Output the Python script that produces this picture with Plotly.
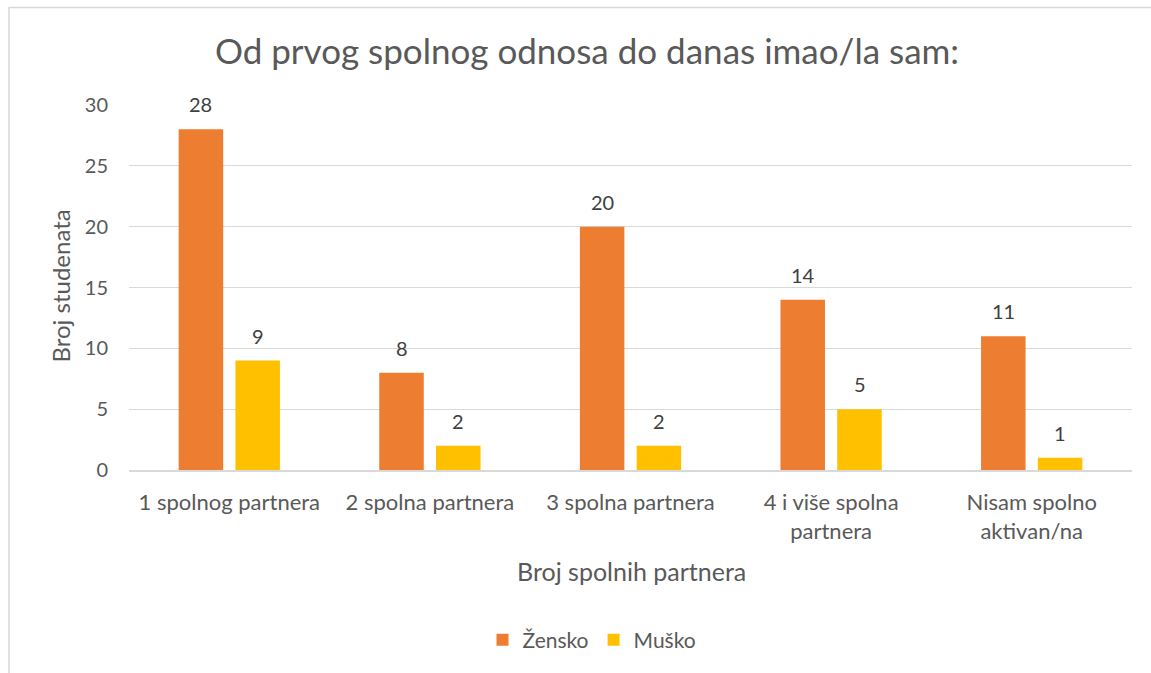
import plotly.graph_objects as go

categories = ["1 spolnog partnera", "2 spolna partnera", "3 spolna partnera",
              "4 i više spolna<br>partnera", "Nisam spolno<br>aktivan/na"]
zensko = [28, 8, 20, 14, 11]
musko = [9, 2, 2, 5, 1]
series_names = ["Žensko", "Muško"]
colors = ["#ED7D31", "#FFC000"]
y_ticks = [0, 5, 10, 15, 20, 25, 30]

FONT = "Lato, 'Open Sans', sans-serif"
GRAY = "#595959"

W, H = 1151, 673
PL, PR, PT, PB = 129, 1132, 105, 470
PW, PH = PR - PL, PB - PT


def px_x(sx):
    return (sx - PL) / PW


def px_y(sy):
    return (PB - sy) / PH


fig = go.Figure()
for name, vals, col in zip(series_names, [zensko, musko], colors):
    fig.add_trace(go.Bar(x=categories, y=vals, name=name, marker_color=col,
                         marker_line_width=0))

annotations = []
for vals, shift in [(zensko, -28.4), (musko, 28.4)]:
    for c, v in zip(categories, vals):
        annotations.append(dict(x=c, y=v, xref="x", yref="y", text=str(v),
                                showarrow=False, xshift=shift, yshift=11,
                                yanchor="bottom",
                                font=dict(family=FONT, size=20, color="#404040")))

annotations.append(dict(x=px_x(631), y=px_y(571), xref="paper", yref="paper",
                        text="Broj spolnih partnera", showarrow=False,
                        yanchor="middle", xanchor="center",
                        font=dict(family=FONT, size=25, color=GRAY)))
annotations.append(dict(x=px_x(60), y=px_y(286.5), xref="paper",
                        yref="paper", text="Broj studenata", showarrow=False,
                        textangle=-90, yanchor="middle", xanchor="center",
                        font=dict(family=FONT, size=24, color=GRAY)))

border = dict(color="#D9D9D9", width=1.5)
fig.update_layout(
    width=W, height=H,
    margin=dict(l=PL, r=W - PR, t=PT, b=H - PB, autoexpand=False),
    paper_bgcolor="white", plot_bgcolor="white",
    barmode="group", bargap=0.434, bargroupgap=0.216,
    title=dict(text="Od prvog spolnog odnosa do danas imao/la sam:",
               x=587 / W, xanchor="center", xref="container",
               y=1 - 52 / H, yanchor="middle",
               font=dict(family=FONT, size=35, color=GRAY)),
    legend=dict(orientation="h", x=px_x(592), xanchor="center",
                y=px_y(640), yanchor="middle",
                font=dict(family=FONT, size=21, color=GRAY),
                itemwidth=30, traceorder="normal"),
    annotations=annotations,
    shapes=[dict(type="line", xref="paper", yref="paper",
                 x0=px_x(9), x1=px_x(9), y0=px_y(700), y1=px_y(7),
                 line=border, layer="below"),
            dict(type="line", xref="paper", yref="paper",
                 x0=px_x(9), x1=px_x(1200), y0=px_y(7.5), y1=px_y(7.5),
                 line=border, layer="below")],
)
fig.update_yaxes(range=[0, 30], tickvals=y_ticks, showgrid=True,
                 gridcolor="#D9D9D9", gridwidth=1, zeroline=False,
                 showline=False, ticks="", ticklabelstandoff=20,
                 tickfont=dict(family=FONT, size=20, color=GRAY))
fig.update_xaxes(showline=True, linecolor="#D9D9D9", linewidth=1.5,
                 ticks="", ticklabelstandoff=12,
                 tickfont=dict(family=FONT, size=22, color=GRAY))

fig.write_html("out.html",
               config={"displayModeBar": False},
               post_script="document.body.style.margin='0';"
                           "document.body.style.overflow='hidden';")
